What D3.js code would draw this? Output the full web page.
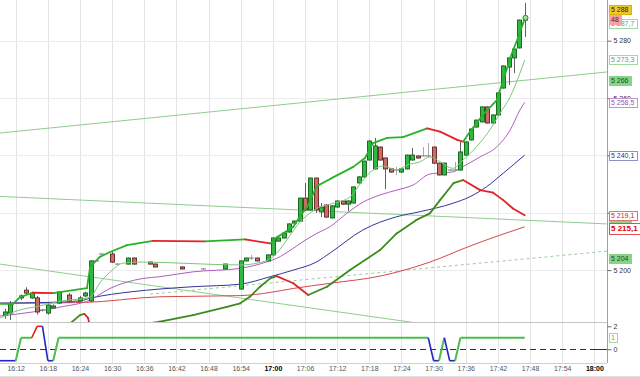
<!DOCTYPE html>
<html><head><meta charset="utf-8">
<script src="https://cdn.jsdelivr.net/npm/d3@7"></script>
<style>
body{margin:0;background:#fff;}
svg{display:block;font-family:"Liberation Sans",Arial,sans-serif;}
</style>
</head><body>
<svg id="c" width="640" height="377"></svg>
<script>
// ---------------- DATA ----------------
// x-axis tick labels
const xTickLabels = ["16:12","16:18","16:24","16:30","16:36","16:42","16:48","16:54","17:00","17:06","17:12","17:18","17:24","17:30","17:36","17:42","17:48","17:54","18:00"];
const boldTickLabels = ["17:00","18:00"];
// price axis ticks
const yTicks = [5200,5220,5240,5260,5280];
const indTicks = [0,2];

// 1-minute candles
const candleTimes = ["16:10","16:11","16:13","16:14","16:15","16:16","16:17","16:18","16:19","16:20","16:22","16:23","16:24","16:25","16:26","16:27","16:28","16:30","16:31","16:33","16:34","16:37","16:38","16:43","16:47","16:51","16:54","16:55","16:56","16:57","16:59","17:00","17:01","17:02","17:03","17:04","17:05","17:06","17:07","17:08","17:09","17:10","17:11","17:12","17:13","17:14","17:15","17:16","17:17","17:18","17:19","17:20","17:21","17:22","17:23","17:24","17:25","17:26","17:27","17:28","17:29","17:30","17:31","17:32","17:33","17:34","17:35","17:36","17:37","17:38","17:39","17:40","17:41","17:42","17:43","17:44","17:45","17:46","17:47"];
const candleOpen  = [5184.3,5185.0,5190.3,5193.0,5190.3,5190.3,5186.1,5185.0,5186.8,5188.5,5191.3,5189.2,5189.2,5191.0,5189.2,5203.2,5205.6,5205.6,5202.1,5202.1,5204.2,5202.8,5202.1,5201.1,5200.4,5200.4,5193.4,5203.2,5204.2,5204.2,5203.2,5205.3,5210.1,5211.2,5213.3,5216.4,5217.1,5225.1,5221.0,5232.1,5220.3,5222.7,5218.2,5222.0,5224.1,5223.0,5223.4,5230.4,5232.5,5238.4,5235.3,5242.9,5239.1,5235.3,5234.9,5234.2,5235.3,5238.4,5239.8,5239.8,5239.8,5242.9,5237.3,5233.2,5234.9,5234.9,5234.9,5240.1,5245.4,5249.9,5251.7,5256.9,5251.3,5254.1,5263.5,5270.8,5274.0,5277.5,5287.2];
const candleHigh  = [5186.5,5189.2,5191.5,5194.0,5192.5,5191.0,5186.5,5188.5,5188.0,5192.5,5192.0,5190.0,5191.0,5192.5,5203.5,5203.5,5205.8,5206.6,5202.4,5204.4,5204.4,5203.0,5202.3,5201.3,5200.6,5202.3,5203.4,5204.4,5205.3,5204.4,5205.5,5211.4,5211.4,5213.1,5216.3,5217.3,5225.3,5230.4,5232.3,5232.3,5223.4,5222.9,5222.6,5224.3,5224.3,5224.3,5229.2,5232.7,5238.2,5245.2,5246.1,5243.1,5239.3,5235.5,5236.0,5235.5,5240.3,5242.6,5240.0,5242.9,5244.3,5243.1,5237.5,5237.5,5235.1,5237.7,5244.7,5244.9,5249.4,5252.5,5257.1,5257.1,5254.3,5262.0,5271.4,5274.2,5277.3,5287.4,5293.2];
const candleLow   = [5183.0,5182.6,5189.5,5191.5,5190.0,5184.5,5185.5,5184.5,5186.5,5188.3,5188.5,5188.5,5188.8,5190.5,5189.0,5203.0,5205.4,5202.5,5201.9,5202.0,5202.0,5202.0,5201.0,5200.3,5200.2,5200.3,5193.2,5203.0,5203.5,5203.0,5203.0,5205.0,5209.9,5211.0,5213.0,5216.2,5217.0,5220.5,5220.8,5219.9,5218.5,5218.3,5218.0,5221.8,5222.8,5220.6,5223.2,5230.2,5232.3,5238.2,5235.1,5238.2,5228.3,5234.0,5233.2,5234.0,5235.1,5238.2,5238.9,5239.8,5239.4,5237.1,5233.0,5233.0,5234.7,5234.9,5234.7,5239.9,5245.2,5249.7,5251.5,5251.1,5251.1,5253.9,5263.3,5264.6,5268.7,5277.3,5281.3];
const candleClose = [5185.4,5188.2,5191.0,5192.0,5192.0,5185.4,5186.1,5187.8,5187.5,5192.4,5189.2,5189.2,5190.3,5192.0,5203.2,5203.2,5205.6,5202.8,5202.1,5204.2,5202.1,5202.1,5201.1,5200.4,5200.4,5202.1,5203.2,5204.2,5204.2,5203.2,5205.3,5211.2,5211.2,5212.9,5216.1,5217.1,5225.1,5221.0,5232.1,5221.0,5222.0,5218.5,5222.4,5224.1,5223.0,5224.1,5229.0,5232.5,5238.0,5245.0,5243.3,5238.4,5235.3,5234.2,5234.9,5235.3,5240.1,5240.1,5239.1,5239.8,5239.8,5237.3,5233.2,5237.3,5234.9,5234.9,5241.2,5244.7,5249.2,5252.3,5256.9,5251.3,5254.1,5261.8,5271.2,5274.0,5277.1,5287.2,5288.0];

// indicator lines: times are minutes after 16:00
const upperBandT = [9.07,11.5,12.8,15.2,19.0,25.3,25.9,27.7,29.6,32.8,37.6,47.3,54.8,59.5,60.8,63.8,65.1,66.4,67.5,68.2,70.7,75.0,77.2,78.7,81.3,84.3,88.8,91.2,94.4,95.5,96.8,99.2,101.8,103.0,104.3,105.8,107];
const upperBandV = [5188.2,5188.2,5190.6,5192.1,5192.0,5193.7,5201.1,5204.6,5206.3,5208.7,5210.2,5210.0,5210.7,5209.3,5211.5,5215.0,5218.9,5222.0,5226.5,5229.3,5231.8,5236.0,5239.1,5244.3,5246.1,5246.4,5249.4,5248.3,5245.4,5244.8,5248.3,5254.1,5259.3,5266.3,5274.0,5281.3,5287.7];
const lowerBandT = [20.0,24.0,24.8,25.5,26.2,30.0,34.0,37.1,38.9,45.1,51.4,53.9,55.7,57.6,59.5,60.7,63.8,66.6,70.1,74.4,80.0,83.1,86.8,89.3,91.2,93.7,95.5,98.7,101.1,103.0,104.8,107];
const lowerBandV = [5178.0,5184.3,5184.7,5183.3,5178.0,5165.0,5172.0,5181.5,5182.0,5184.3,5187.2,5188.4,5190.7,5194.2,5197.1,5197.9,5195.4,5191.3,5194.2,5200.0,5207.0,5212.8,5217.5,5219.8,5224.4,5230.3,5231.4,5227.9,5227.0,5224.4,5221.5,5219.1];
const fastMAT = [9.07,12.8,16.5,20.3,24.0,25.9,27.7,29.6,32.0,35.2,53.9,58.9,60.7,62.6,65.1,66.9,68.2,70.7,74.4,76.8,78.7,80.6,83.1,85.0,87.5,89.3,91.2,93.6,95.5,98.0,100.5,102.4,104.3,106.1,107];
const fastMAV = [5183.3,5186.1,5187.5,5189.2,5189.9,5190.6,5195.5,5199.3,5202.4,5202.8,5201.8,5203.3,5205.9,5210.5,5216.9,5219.8,5221.5,5223.0,5225.5,5231.4,5234.9,5236.3,5234.9,5236.6,5237.8,5239.5,5237.8,5235.5,5238.4,5243.0,5248.9,5254.7,5260.5,5268.6,5273.3];
const purpleMAT = [9.07,15.2,20.3,25.9,29.6,35.8,38.9,45.1,53.9,58.9,60.7,63.8,65.6,68.2,70.7,73.8,76.9,80.0,83.1,86.2,89.3,93.7,94.9,98.7,101.8,104.3,106.1,107];
const purpleMAV = [5184.0,5185.4,5187.1,5189.6,5193.6,5197.1,5197.7,5199.4,5200.6,5202.9,5204.1,5207.6,5209.9,5212.8,5215.2,5219.8,5223.8,5226.2,5227.9,5229.7,5233.5,5234.3,5235.5,5239.5,5243.0,5248.9,5255.8,5258.5];
const blueMAT = [9.07,23.4,25.9,33.9,38.9,45.1,53.9,59.5,63.8,68.2,70.7,76.8,83.1,87.5,93.6,96.8,99.9,103.0,107];
const blueMAV = [5188.5,5189.0,5190.2,5192.5,5193.4,5194.2,5195.1,5197.7,5200.0,5202.9,5206.0,5214.0,5218.6,5220.4,5223.3,5225.6,5229.1,5233.8,5240.1];
const longMAT = [9.07,24.6,38.9,53.9,59.5,63.8,70.7,80.0,89.3,96.8,102.4,107];
const longMAV = [5188.4,5188.7,5190.7,5191.1,5192.2,5193.6,5195.4,5197.9,5202.8,5208.4,5212.2,5215.1];
const dashedT = [37.1,122.36];
const dashedV = [5191.6,5206.6];
// trend lines
const trendAT = [9.07,122.36], trendAV = [5247.8,5269.1];
const trendBT = [9.07,122.36], trendBV = [5225.7,5216.1];
const trendCT = [9.07,85.6],   trendCV = [5202.1,5181.9];

// lower signal panel
const signalTimes = ["16:09","16:12","16:13","16:15","16:16","16:17","16:18","16:19","16:20","17:29","17:30","17:31","17:32","17:33","17:34","17:35","17:47"];
const signalValues = [-1,-1,1,1,2,2,-1,-1,1,1,-1,-1,1,-1,-1,1,1];

// right-axis value labels
const labelTexts  = ["5 204","5 218","5 219,1","5 215,1","5 240,1","5 258,5","5 266","5 273,3","5 287,7","5 288"];
const labelValues = [5204,5218,5219.1,5215.1,5240.1,5258.5,5266,5273.3,5287.7,5288];
const labelSeries = ["dashed","trendB","lowerBand","longMA","blueMA","purpleMA","trendA","fastMA","upperBand","last"];
const counterText = "48";
const signalLabel = {text:"1", value:1};

// ---------------- DRAW ----------------
const svg = d3.select("#c");
const plotRight = 607, mainBottom = 322, indTop = 324, indBottom = 363;
const toMin = s => { const p = s.split(":").map(Number); return (p[0]-16)*60 + p[1]; };

const x = d3.scaleLinear().domain([9.07,122.36]).range([0,plotRight]);
const y = d3.scaleLinear().domain([5181.9,5294.2]).range([mainBottom,0]);
const yi = d3.scaleLinear().domain([-1.2,2.2]).range([indBottom,indTop]);

const COL = {
  up:"#2fb843", upStroke:"#1f6a22", down:"#c76c66", downStroke:"#6f2e2c",
  bandUp:"#27b327", bandDown:"#e3222a", lowUp:"#3f8a1f", lowDown:"#e3222a",
  fast:"#7cc57c", purple:"#b05cc0", blue:"#34349a", longMA:"#d84848", trend:"#8fcc8f", dashed:"#9ccc9c"
};

svg.append("rect").attr("width",640).attr("height",377).attr("fill","#fff");

// grid
const gGrid = svg.append("g");
gGrid.selectAll("line.v").data(xTickLabels).join("line")
  .attr("x1",d=>Math.round(x(toMin(d)))+0.5).attr("x2",d=>Math.round(x(toMin(d)))+0.5)
  .attr("y1",0).attr("y2",indBottom).attr("stroke","#e4e4e4");
gGrid.selectAll("line.h").data(yTicks).join("line")
  .attr("x1",0).attr("x2",plotRight).attr("y1",d=>Math.round(y(d))+0.5).attr("y2",d=>Math.round(y(d))+0.5)
  .attr("stroke","#ececec");

// clip
const defs = svg.append("defs");
defs.append("clipPath").attr("id","clipMain").append("rect").attr("x",0).attr("y",0).attr("width",plotRight).attr("height",mainBottom);
defs.append("clipPath").attr("id","clipInd").append("rect").attr("x",0).attr("y",indTop).attr("width",plotRight).attr("height",indBottom-indTop);

const gMain = svg.append("g").attr("clip-path","url(#clipMain)");
const zip = (T,V) => T.map((t,i)=>({t,v:V[i]}));
const line = d3.line().x(d=>x(d.t)).y(d=>y(d.v));
const smooth = d3.line().x(d=>x(d.t)).y(d=>y(d.v)).curve(d3.curveMonotoneX);

// trend lines
[[trendAT,trendAV],[trendBT,trendBV],[trendCT,trendCV]].forEach(([T,V])=>{
  gMain.append("path").attr("d",line(zip(T,V))).attr("fill","none").attr("stroke",COL.trend).attr("stroke-width",1);
});
{
  const s = (trendCV[1]-trendCV[0])/(trendCT[1]-trendCT[0]);
  gMain.append("path").attr("d",line([{t:trendCT[1],v:trendCV[1]},{t:trendCT[1]+10,v:trendCV[1]+10*s}]))
    .attr("fill","none").attr("stroke",COL.trend);
}
// dashed
gMain.append("path").attr("d",line(zip(dashedT,dashedV))).attr("fill","none").attr("stroke",COL.dashed).attr("stroke-dasharray","3,3");

// MAs
gMain.append("path").attr("d",smooth(zip(longMAT,longMAV))).attr("fill","none").attr("stroke",COL.longMA).attr("stroke-width",1);
gMain.append("path").attr("d",smooth(zip(blueMAT,blueMAV))).attr("fill","none").attr("stroke",COL.blue).attr("stroke-width",1);
gMain.append("path").attr("d",smooth(zip(purpleMAT,purpleMAV))).attr("fill","none").attr("stroke",COL.purple).attr("stroke-width",1);

// direction-coloured bands
function bandPath(T,V,up,down,w){
  const p = zip(T,V);
  for(let i=0;i<p.length-1;i++){
    gMain.append("path").attr("d",line([p[i],p[i+1]])).attr("fill","none")
      .attr("stroke", p[i+1].v >= p[i].v ? up : down).attr("stroke-width",w).attr("stroke-linecap","round");
  }
}
bandPath(lowerBandT,lowerBandV,COL.lowUp,COL.lowDown,1.8);

// candles
const cw = 4;
const candles = candleTimes.map((t,i)=>({t:toMin(t),o:candleOpen[i],h:candleHigh[i],l:candleLow[i],c:candleClose[i]}));
const gC = gMain.append("g");
candles.forEach(d=>{
  const cx = Math.round(x(d.t))+0.5;
  const flat = d.o===d.c;
  const upC = d.c>d.o;
  gC.append("line").attr("x1",cx).attr("x2",cx).attr("y1",y(d.h)).attr("y2",y(d.l))
    .attr("stroke", flat ? "#a8a8a8" : "#606060").attr("stroke-width",1);
  if(flat){
    gC.append("line").attr("x1",cx-2.5).attr("x2",cx+2.5).attr("y1",y(d.o)).attr("y2",y(d.o)).attr("stroke","#777");
  } else {
    const top = y(Math.max(d.o,d.c)), bot = y(Math.min(d.o,d.c));
    gC.append("rect").attr("x",cx-cw/2).attr("y",top).attr("width",cw).attr("height",Math.max(1,bot-top))
      .attr("fill", upC?COL.up:COL.down).attr("stroke", upC?COL.upStroke:COL.downStroke).attr("stroke-width",1);
  }
});

gMain.append("path").attr("d",smooth(zip(fastMAT,fastMAV))).attr("fill","none").attr("stroke",COL.fast).attr("stroke-width",1);
bandPath(upperBandT,upperBandV,COL.bandUp,COL.bandDown,1.8);

// last price marker
{
  const last = candles[candles.length-1];
  gMain.append("circle").attr("cx",Math.round(x(last.t))+0.5).attr("cy",y(last.c)).attr("r",2.5)
    .attr("fill","#9fe09f").attr("stroke","#2a8a2a");
}

// separators / frame
svg.append("line").attr("x1",0).attr("x2",plotRight).attr("y1",mainBottom+0.5).attr("y2",mainBottom+0.5).attr("stroke","#c4c4c4");
svg.append("line").attr("x1",0).attr("x2",plotRight).attr("y1",indBottom+0.5).attr("y2",indBottom+0.5).attr("stroke","#d0d0d0");
svg.append("line").attr("x1",0).attr("x2",640).attr("y1",376.5).attr("y2",376.5).attr("stroke","#e0e0e0");

// signal panel
const gInd = svg.append("g").attr("clip-path","url(#clipInd)");
gInd.append("line").attr("x1",0).attr("x2",plotRight).attr("y1",Math.round(yi(0))+0.5).attr("y2",Math.round(yi(0))+0.5)
  .attr("stroke","#333").attr("stroke-dasharray","6,4");
const sig = signalTimes.map((t,i)=>({t:toMin(t),v:signalValues[i]}));
const sigColor = v => v===2 ? "#e02020" : v===1 ? "#4cbc4c" : "#2424c8";
const sline = d3.line().x(d=>x(d.t)).y(d=>yi(d.v));
for(let i=0;i<sig.length-1;i++){
  gInd.append("path").attr("d",sline([sig[i],sig[i+1]])).attr("fill","none")
    .attr("stroke",sigColor(sig[i+1].v)).attr("stroke-width",sig[i+1].v===1?2:1.6);
}

// right axis
const fmt = v => d3.format(",")(v).replace(/,/g," ");
const coveredTick = v => labelValues.some(lv => Math.abs(y(lv)-y(v)) < 3);
const gAx = svg.append("g").attr("transform",`translate(${plotRight+0.5},0)`)
  .call(d3.axisRight(y).tickValues(yTicks).tickSize(4).tickPadding(2).tickFormat(v => coveredTick(v) ? "" : fmt(v)));
gAx.select(".domain").attr("stroke","#a0a0a0").attr("d",`M0,0V${indBottom}`);
gAx.selectAll(".tick line").attr("stroke","#666");
gAx.selectAll("text").attr("font-size",7).attr("fill","#333").attr("font-family","Liberation Sans, Arial");
const gAxI = svg.append("g").attr("transform",`translate(${plotRight+0.5},0)`)
  .call(d3.axisRight(yi).tickValues(indTicks).tickSize(4).tickPadding(2).tickFormat(d3.format("d")));
gAxI.select(".domain").remove();
gAxI.selectAll(".tick line").attr("stroke","#666");
gAxI.selectAll("text").attr("font-size",7).attr("fill","#333").attr("font-family","Liberation Sans, Arial");
svg.append("line").attr("x1",596).attr("x2",plotRight).attr("y1",Math.round(yi(0))+0.5).attr("y2",Math.round(yi(0))+0.5).attr("stroke","#333");

// value labels
const STY = {
  dashed:{fill:"#86d486",stroke:"#86d486",text:"#1c4a1c"},
  trendB:{fill:"#86d486",stroke:"#86d486",text:"#1c4a1c"},
  trendA:{fill:"#86d486",stroke:"#86d486",text:"#1c4a1c"},
  lowerBand:{fill:"#fff",stroke:"#e87070",text:"#d42020"},
  longMA:{fill:"#fff",stroke:"#e05050",text:"#e00000",bold:true},
  blueMA:{fill:"#fff",stroke:"#9090c8",text:"#303090"},
  purpleMA:{fill:"#fff",stroke:"#c890d4",text:"#a050b0"},
  fastMA:{fill:"#fff",stroke:"#a0d8a0",text:"#5aaa5a"},
  upperBand:{fill:"#fff",stroke:"#a0d8a0",text:"#5aaa5a"},
  last:{fill:"#f2c62a",stroke:"#e0b010",text:"#222"}
};
const NUDGE = {last:-8.3, upperBand:4.5, trendB:-0.5, longMA:1.3};
const gL = svg.append("g");
function drawLabel(text, cy, st){
  const fs = st.bold ? 8 : 7;
  const h = st.bold ? 11 : 9;
  const t = gL.append("text").attr("x",611).attr("y",cy).attr("dy","0.35em").attr("font-size",fs)
    .attr("font-weight",st.bold?"bold":"normal").attr("fill",st.text).text(text);
  const w = t.node().getComputedTextLength();
  gL.insert("rect", () => t.node()).attr("x",609.5).attr("y",Math.round(cy-h/2)+0.5).attr("width",Math.ceil(w)+4).attr("height",h)
    .attr("fill",st.fill).attr("stroke",st.stroke);
}
labelTexts.forEach((txt,i)=>{
  const s = labelSeries[i];
  if(s==="last") return;
  drawLabel(txt, y(labelValues[i]) + (NUDGE[s]||0), STY[s]);
});
{
  const i = labelSeries.indexOf("last");
  const cy = y(labelValues[i]) + NUDGE.last;
  drawLabel(labelTexts[i], cy, STY.last);
  drawLabel(counterText, cy + 10, {fill:"#f4a2a2",stroke:"#f4a2a2",text:"#7a1010"});
}
drawLabel(signalLabel.text, yi(signalLabel.value), {fill:"#fff",stroke:"#a0d8a0",text:"#5aaa5a"});

// bottom axis
const gX = svg.append("g").attr("transform",`translate(0,${indBottom})`)
  .call(d3.axisBottom(x).tickValues(xTickLabels.map(toMin)).tickSize(0).tickPadding(3)
    .tickFormat((d,i)=>xTickLabels[i]));
gX.select(".domain").remove();
gX.selectAll("text").attr("font-size",7).attr("font-family","Liberation Sans, Arial")
  .attr("fill",(d,i)=>boldTickLabels.includes(xTickLabels[i])?"#000":"#555")
  .attr("font-weight",(d,i)=>boldTickLabels.includes(xTickLabels[i])?"bold":"normal");
</script>
</body></html>
